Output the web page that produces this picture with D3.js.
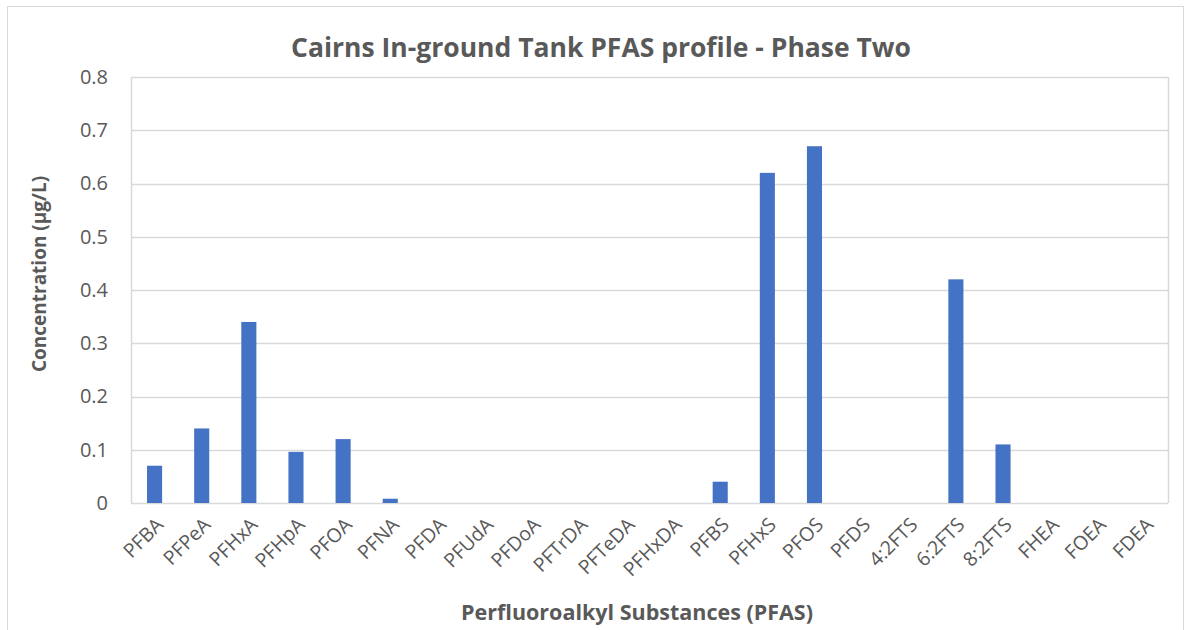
<!DOCTYPE html>
<html><head><meta charset="utf-8">
<script src="https://cdn.jsdelivr.net/npm/d3@7"></script>
<style>body{margin:0;background:#fff;}svg{display:block;}</style>
</head><body>
<script>
const categories = ["PFBA","PFPeA","PFHxA","PFHpA","PFOA","PFNA","PFDA","PFUdA","PFDoA","PFTrDA","PFTeDA","PFHxDA","PFBS","PFHxS","PFOS","PFDS","4:2FTS","6:2FTS","8:2FTS","FHEA","FOEA","FDEA"];
const values = [0.07,0.14,0.34,0.096,0.12,0.008,0,0,0,0,0,0,0.04,0.62,0.67,0,0,0.42,0.11,0,0,0];
const yTicks = [0,0.1,0.2,0.3,0.4,0.5,0.6,0.7,0.8];
const title = "Cairns In-ground Tank PFAS profile - Phase Two";
const xTitle = "Perfluoroalkyl Substances (PFAS)";
const yTitle = "Concentration (µg/L)";

const W = 1190, H = 630;
const m = {left:131, right:22, top:77, bottom:127};
const svg = d3.select("body").append("svg").attr("width",W).attr("height",H);
const font = "'Open Sans', 'Liberation Sans', sans-serif";
const grey = "#595959";

svg.append("rect").attr("x",7.5).attr("y",6.5).attr("width",1176).attr("height",640)
  .attr("fill","#fff").attr("stroke","#d9d9d9").attr("stroke-width",1);

const x = d3.scaleBand().domain(categories).range([m.left, W-m.right]).paddingInner(0.68).paddingOuter(0.34);
const y = d3.scaleLinear().domain([0,0.8]).range([H-m.bottom, m.top]);

// gridlines
svg.append("g").selectAll("line").data(yTicks).join("line")
  .attr("x1",m.left).attr("x2",W-m.right)
  .attr("y1",d=>Math.round(y(d))+0.5).attr("y2",d=>Math.round(y(d))+0.5)
  .attr("stroke","#d9d9d9").attr("stroke-width",1.5);
// left/right borders of plot
svg.append("line").attr("x1",m.left+0.5).attr("x2",m.left+0.5).attr("y1",y(0.8)).attr("y2",y(0)).attr("stroke","#d9d9d9").attr("stroke-width",1.5);
svg.append("line").attr("x1",W-m.right+0.5).attr("x2",W-m.right+0.5).attr("y1",y(0.8)).attr("y2",y(0)).attr("stroke","#d9d9d9").attr("stroke-width",1.5);

// bars
svg.append("g").selectAll("rect").data(categories).join("rect")
  .attr("x",d=>x(d)).attr("width",x.bandwidth())
  .attr("y",(d,i)=>y(values[i])).attr("height",(d,i)=>y(0)-y(values[i]))
  .attr("fill","#4472c4");

// y axis labels
const yAxis = d3.axisLeft(y).tickValues(yTicks).tickSize(0).tickPadding(23).tickFormat(d=>d===0?"0":d3.format(".1f")(d));
const ya = svg.append("g").attr("transform",`translate(${m.left},0)`).call(yAxis);
ya.select(".domain").remove();
ya.selectAll("text").attr("font-family",font).attr("font-size",20).attr("fill",grey);

// x axis labels
const xAxis = d3.axisBottom(x).tickSize(0).tickPadding(0);
const xa = svg.append("g").attr("transform",`translate(0,${y(0)})`).call(xAxis);
xa.select(".domain").remove();
xa.selectAll("text").attr("font-family",font).attr("font-size",19.5).attr("fill",grey)
  .attr("text-anchor","end").attr("dy",0).attr("y",0)
  .attr("transform","translate(10,23) rotate(-45)");

// titles
svg.append("text").attr("x",601).attr("y",57).attr("text-anchor","middle")
  .attr("font-family",font).attr("font-weight","bold").attr("font-size",26.5).attr("fill",grey).text(title);
svg.append("text").attr("x",637).attr("y",620).attr("text-anchor","middle")
  .attr("font-family",font).attr("font-weight","bold").attr("font-size",21.5).attr("fill",grey).text(xTitle);
svg.append("text").attr("transform","translate(46,274) rotate(-90)").attr("text-anchor","middle")
  .attr("font-family",font).attr("font-weight","bold").attr("font-size",19).attr("fill",grey).text(yTitle);
</script>
</body></html>
